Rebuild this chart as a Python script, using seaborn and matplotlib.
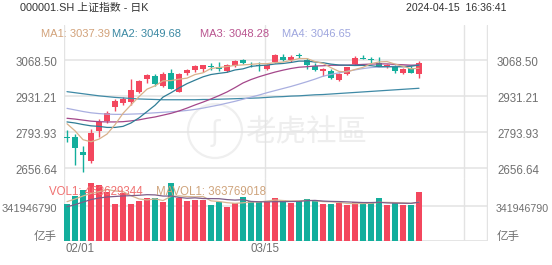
import numpy as np
import pandas as pd
import matplotlib
matplotlib.use("Agg")
import matplotlib.pyplot as plt
import matplotlib.transforms as mtrans
from matplotlib.patches import Circle
import seaborn as sns

sns.set_style("white")
plt.rcParams['font.family'] = ['Liberation Sans', 'Noto Sans CJK SC']

# ---------------- data ----------------
dates = ["02-01", "02-02", "02-05", "02-06", "02-07", "02-08", "02-19", "02-20", "02-21",
         "02-22", "02-23", "02-26", "02-27", "02-28", "02-29", "03-01", "03-04", "03-05",
         "03-06", "03-07", "03-08", "03-11", "03-12", "03-13", "03-14", "03-15", "03-18",
         "03-19", "03-20", "03-21", "03-22", "03-25", "03-26", "03-27", "03-28", "03-29",
         "04-01", "04-02", "04-03", "04-08", "04-09", "04-10", "04-11", "04-12", "04-15"]
opens = [2774, 2775, 2717, 2684, 2796, 2834, 2888, 2906, 2910, 2948, 2998, 3008, 2971, 3021,
         2948, 3018, 3031, 3035, 3045, 3044, 3028, 3047, 3069, 3054, 3049, 3034, 3060, 3082,
         3068, 3087, 3069, 3046, 3029, 3028, 2993, 3014, 3054, 3078, 3073, 3057, 3045, 3044,
         3018, 3038, 3016]
highs = [2802, 2786, 2740, 2804, 2844, 2874, 2918, 2929, 2995, 2993, 3015, 3016, 3023, 3034,
         3018, 3036, 3049, 3052, 3059, 3062, 3054, 3070, 3074, 3062, 3061, 3054, 3092, 3092,
         3088, 3095, 3076, 3058, 3037, 3034, 3019, 3044, 3085, 3088, 3082, 3080, 3054, 3050,
         3037, 3046, 3066]
lows = [2757, 2667, 2640, 2673, 2773, 2829, 2874, 2897, 2897, 2944, 2980, 2970, 2967, 2957,
        2947, 3011, 3025, 3025, 3031, 3026, 3023, 3042, 3054, 3041, 3028, 3031, 3057, 3067,
        3063, 3076, 3034, 3027, 3008, 2995, 2990, 3011, 3050, 3073, 3058, 3046, 3039, 3018,
        3015, 3018, 2999]
closes = [2771, 2733, 2704, 2791, 2832, 2867, 2913, 2921, 2954, 2989, 3011, 2977, 3016, 2959,
          3016, 3031, 3046, 3049, 3043, 3034, 3050, 3067, 3059, 3053, 3047, 3050, 3088, 3069,
          3082, 3085, 3050, 3031, 3034, 2999, 3014, 3041, 3077, 3075, 3069, 3047, 3049, 3028,
          3034, 3020, 3057]
ma1 = [2825, 2798, 2764, 2756, 2766.2, 2785.4, 2821.4, 2864.8, 2897.4, 2928.8, 2957.6, 2970.4,
       2989.4, 2990.4, 2995.8, 2999.8, 3013.6, 3020.2, 3037.0, 3040.6, 3044.4, 3048.6, 3050.6,
       3052.6, 3055.2, 3055.2, 3059.4, 3061.4, 3067.2, 3074.8, 3074.8, 3063.4, 3056.4, 3039.8,
       3025.6, 3023.8, 3033.0, 3041.2, 3055.2, 3061.8, 3063.4, 3053.6, 3045.4, 3035.6, 3037.6]
ma2 = [2832, 2828, 2822, 2817, 2815, 2811, 2811, 2815, 2828, 2847.5, 2871.5, 2895.9, 2927.1,
       2943.9, 2962.3, 2978.7, 2992.0, 3004.8, 3013.7, 3018.2, 3022.1, 3031.1, 3035.4, 3044.8,
       3047.9, 3049.8, 3054.0, 3056.0, 3059.9, 3065.0, 3065.0, 3061.4, 3058.9, 3053.5, 3050.2,
       3049.3, 3048.2, 3048.8, 3047.5, 3043.7, 3043.6, 3043.3, 3043.3, 3045.4, 3049.7]
ma3 = [2846, 2843, 2839, 2835, 2833, 2832, 2832, 2833, 2836, 2840, 2846, 2851, 2858, 2865,
       2874, 2885, 2897, 2908, 2920, 2932.9, 2946.8, 2963.5, 2981.3, 2994.4, 3005.1, 3014.3,
       3023.0, 3030.4, 3036.8, 3041.6, 3043.6, 3046.3, 3047.2, 3049.2, 3049.1, 3049.6, 3051.1,
       3052.4, 3053.7, 3054.4, 3054.3, 3052.4, 3051.1, 3049.5, 3050.0]
ma4 = [2884, 2878, 2872, 2867, 2864, 2862, 2861, 2861, 2862, 2863, 2865, 2867, 2869, 2871,
       2873, 2876, 2880, 2885, 2891, 2897, 2904, 2911, 2919, 2927, 2935, 2944, 2952, 2960,
       2968, 2976.9, 2986.2, 2996.1, 3007.1, 3014.1, 3020.1, 3025.9, 3031.4, 3036.5, 3040.4,
       3042.3, 3043.6, 3045.3, 3045.9, 3047.9, 3049.3]
ma5 = [2948, 2944, 2940, 2936, 2932, 2929, 2926, 2924, 2922, 2920, 2919, 2918, 2917, 2917,
       2917, 2917, 2917, 2918, 2918, 2919, 2920, 2921, 2922, 2923, 2924, 2926, 2928, 2929,
       2931, 2932, 2934, 2936, 2937, 2939, 2941, 2943, 2945, 2947, 2949, 2951, 2953, 2955,
       2957, 2959, 2961]
# volume in millions of lots
volume = [362, 440, 495, 564, 547, 476, 362, 466, 362, 391, 423, 417, 384, 564, 417, 391, 401,
          401, 352, 384, 335, 368, 427, 391, 384, 384, 417, 401, 368, 394, 407, 394, 362, 359,
          368, 352, 384, 368, 368, 417, 349, 374, 352, 349, 476]
mavol1 = [384, 410, 440, 465, 481.6, 504.4, 488.8, 483.0, 442.6, 411.4, 400.8, 411.8, 395.4,
          435.8, 441.0, 434.6, 431.4, 434.8, 392.4, 385.8, 374.6, 368.0, 373.2, 381.0, 381.0,
          390.8, 400.6, 395.4, 390.8, 392.8, 397.4, 392.8, 385.0, 383.2, 378.0, 367.0, 365.0,
          366.2, 368.0, 377.8, 377.2, 375.2, 372.0, 368.2, 380.0]
mavol2 = [335, 355, 380, 405, 420, 430, 435, 440, 443, 446.5, 452.6, 450.3, 439.2, 439.2,
          426.2, 417.7, 421.6, 415.1, 414.1, 413.4, 404.6, 399.7, 404.0, 386.7, 383.4, 382.7,
          384.3, 384.3, 385.9, 386.9, 394.1, 396.7, 390.2, 387.0, 385.4, 382.2, 378.9, 375.6,
          375.6, 377.9, 372.1, 370.1, 369.1, 368.1, 378.9]
price_ticks = [3068.50, 2931.21, 2793.93, 2656.64]
price_tick_labels = ["3068.50", "2931.21", "2793.93", "2656.64"]
vol_tick = 341.946790
vol_tick_label = "341946790"
date_ticks = ["02/01", "03/15"]
date_tick_idx = [-0.25, 24.75]
ma_labels = ["MA1: 3037.39", "MA2: 3049.68", "MA3: 3048.28", "MA4: 3046.65"]

# ---------------- styling ----------------
W, H = 552, 265
UP, DOWN = "#f3475e", "#13ae9c"
GRID = "#e3e3e3"
LBL = "#707070"
MA_COLORS = ["#d9b28c", "#2f7d96", "#a4478a", "#a9afe0", "#3f8aa6"]
MA_TXT = ["#d2a27a", "#3a88a2", "#b9548f", "#9ea6de"]

df = pd.DataFrame({"i": np.arange(len(dates)), "date": dates, "open": opens, "high": highs,
                   "low": lows, "close": closes, "ma1": ma1, "ma2": ma2, "ma3": ma3,
                   "ma4": ma4, "ma5": ma5, "vol": volume, "mavol1": mavol1, "mavol2": mavol2})
df["up"] = df["close"] >= df["open"]
df["col"] = np.where(df["up"], UP, DOWN)

fig = plt.figure(figsize=(W / 100, H / 100), dpi=100)
fig.patch.set_facecolor("white")


def px_rect(x0, y0, x1, y1):
    return [x0 / W, 1 - y1 / H, (x1 - x0) / W, (y1 - y0) / H]


def ftxt(x, y, s, **kw):
    kw.setdefault("va", "center")
    fig.text(x / W, 1 - y / H, s, **kw)


axp = fig.add_axes(px_rect(64, 25, 488, 178))
axv = fig.add_axes(px_rect(64, 178, 488, 241))
for a in (axp, axv):
    a.set_facecolor("none")
    a.set_xlim(-0.375, 52.625)
    for s in a.spines.values():
        s.set_visible(False)
    a.set_xticks([])
    a.set_yticks([])

axp.set_ylim(2617.2, 3203.4)
axv.set_ylim(0, 615.5)

# watermark
fig.add_artist(Circle((215, H - 131), 27, transform=mtrans.IdentityTransform(),
                      facecolor="none", edgecolor="#efefef", lw=1.6, zorder=-5))
ftxt(215, 133, "ʃ", color="#efefef", fontsize=20, ha="center", zorder=-5,
     family=["DejaVu Sans"])
ftxt(307, 133, "老虎社區", color="#eeeeee", fontsize=22, ha="center", zorder=-5,
     family=["Noto Sans CJK SC"])

# grid lines
for v in price_ticks:
    axp.axhline(v, color=GRID, lw=1.1, zorder=0)
axv.axhline(vol_tick, color=GRID, lw=1.1, zorder=0)
axv.axhline(0, color=GRID, lw=1.3, zorder=0)
for a in (axp, axv):
    for xv in [-0.34, 24.75, 49.63, 52.56]:
        a.axvline(xv, color=GRID, lw=1.0, zorder=0)

# candles
axp.vlines(df["i"], df["low"], df["high"], colors=df["col"], lw=1.0, zorder=3)
body_lo = np.minimum(df["open"], df["close"])
body_h = np.maximum(np.abs(df["close"] - df["open"]), 1.5)
axp.bar(df["i"], body_h, bottom=body_lo, width=0.74, color=df["col"], zorder=4, linewidth=0)

# moving averages
for k, col in zip(["ma5", "ma4", "ma3", "ma2", "ma1"], MA_COLORS[::-1]):
    sns.lineplot(data=df, x="i", y=k, ax=axp, color=col, lw=0.9, zorder=5, legend=False)
axp.set_xlabel("")
axp.set_ylabel("")

# volume
axv.bar(df["i"], df["vol"], width=0.74, color=df["col"], zorder=3, linewidth=0)
sns.lineplot(data=df, x="i", y="mavol1", ax=axv, color="#d6b692", lw=0.9, zorder=4, legend=False)
sns.lineplot(data=df, x="i", y="mavol2", ax=axv, color="#7d5d89", lw=0.9, zorder=4, legend=False)
axv.set_xlabel("")
axv.set_ylabel("")
for art in axv.patches:
    art.set_clip_on(False)

# axis labels
tr_l = mtrans.offset_copy(mtrans.blended_transform_factory(axp.transAxes, axp.transData),
                          fig=fig, x=-7, y=-3, units="dots")
tr_r = mtrans.offset_copy(mtrans.blended_transform_factory(axp.transAxes, axp.transData),
                          fig=fig, x=9, y=-3, units="dots")
for v, s in zip(price_ticks, price_tick_labels):
    axp.text(0, v, s, transform=tr_l, ha="right", va="center", fontsize=8.3, color=LBL)
    axp.text(1, v, s, transform=tr_r, ha="left", va="center", fontsize=8.3, color=LBL)
tv_l = mtrans.offset_copy(mtrans.blended_transform_factory(axv.transAxes, axv.transData),
                          fig=fig, x=-7, y=-3, units="dots")
tv_r = mtrans.offset_copy(mtrans.blended_transform_factory(axv.transAxes, axv.transData),
                          fig=fig, x=8, y=-3, units="dots")
axv.text(0, vol_tick, vol_tick_label, transform=tv_l, ha="right", va="center", fontsize=8.0,
         color=LBL, clip_on=False)
axv.text(1, vol_tick, vol_tick_label, transform=tv_r, ha="left", va="center", fontsize=7.7,
         color=LBL, clip_on=False)
ftxt(57, 237, "亿手", ha="right", fontsize=8.3, color=LBL)
ftxt(497, 237, "亿手", ha="left", fontsize=8.3, color=LBL)

# date labels
td = mtrans.offset_copy(mtrans.blended_transform_factory(axv.transData, axv.transAxes),
                        fig=fig, y=-8, units="dots")
for xi, s, ha in zip(date_tick_idx, date_ticks, ["left", "center"]):
    axv.text(xi, 0, s, transform=td, ha=ha, va="center", fontsize=8.3, color=LBL)

# header
ftxt(20, 8, "000001.SH 上证指数 - 日K", fontsize=7.8, color="#333333")
ftxt(507, 8, "2024-04-15  16:36:41", fontsize=7.6, color="#333333", ha="right")
for xpx, s, c in zip([41, 112, 200, 282], ma_labels, MA_TXT):
    ftxt(xpx, 34, s, fontsize=8, color=c)
ftxt(49, 192, "VOL1: 463629344", fontsize=8.3, color="#f07070")
ftxt(156, 192, "MAVOL1: 363769018", fontsize=8.3, color="#cfa47c")

fig.savefig("out.png", dpi=100, facecolor="white")
